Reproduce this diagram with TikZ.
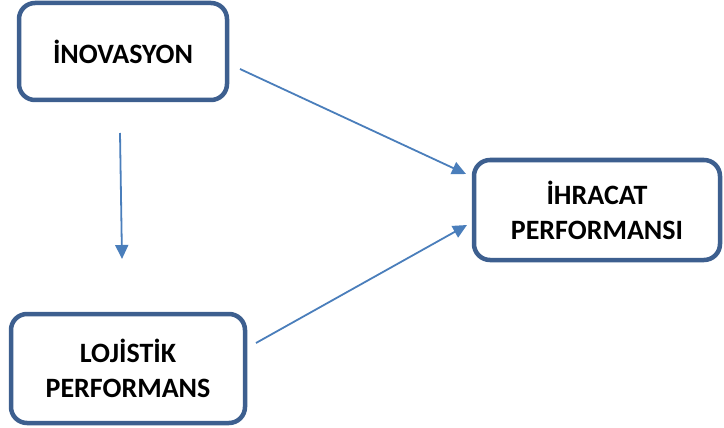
\documentclass[tikz,border=0pt]{standalone}
\usepackage{fontspec}
\setmainfont{Carlito}
\usetikzlibrary{arrows.meta}
\definecolor{boxblue}{HTML}{3D5F8F}
\definecolor{arrblue}{HTML}{4A7EBB}
\tikzset{
  box/.style={draw=boxblue, line width=4.5pt, rounded corners=16pt, fill=white,
    align=center, font=\fontsize{28}{35}\selectfont\bfseries, inner sep=0pt},
  conn/.style={draw=arrblue, line width=1.8pt, -{Triangle[length=14pt,width=13pt]}}
}
\begin{document}
\begin{tikzpicture}[x=1pt,y=-1pt]
\useasboundingbox (0,0) rectangle (724,428);
\node[box, minimum width=208pt, minimum height=97pt] (ino) at (123,51.5) {İNOVASYON};
\node[box, minimum width=246pt, minimum height=100pt] (ihr) at (597,210) {İHRACAT\\PERFORMANSI};
\node[box, minimum width=234pt, minimum height=109pt] (loj) at (128,368.5) {LOJİSTİK\\PERFORMANS};
\coordinate (a1s) at (240,69);
\coordinate (a1e) at (466,174);
\coordinate (a2s) at (120,133);
\coordinate (a2e) at (122,259);
\coordinate (a3s) at (256,343);
\coordinate (a3e) at (467,225);
\draw[conn] (a1s) -- (a1e);
\draw[conn] (a2s) -- (a2e);
\draw[conn] (a3s) -- (a3e);
\end{tikzpicture}
\end{document}
